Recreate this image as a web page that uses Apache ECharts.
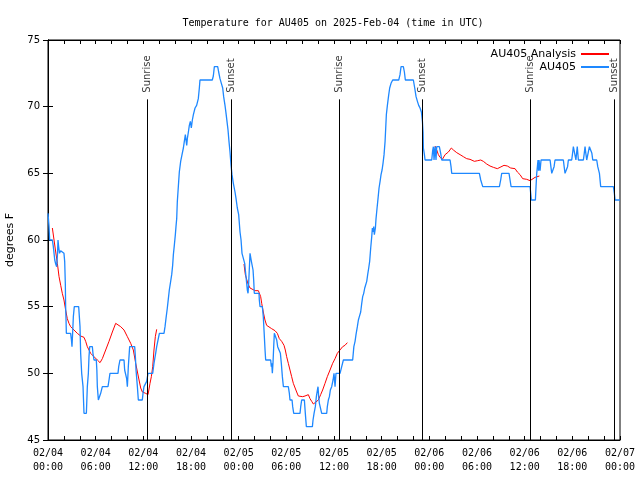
<!DOCTYPE html>
<html><head><meta charset="utf-8">
<script src="https://cdn.jsdelivr.net/npm/echarts@6/dist/echarts.min.js"></script>
<style>html,body{margin:0;padding:0;background:#fff}#c{width:640px;height:480px}</style>
</head><body><div id="c"></div>
<script>
// hours since 2025-02-04 00:00 UTC
const obsHours = [
0,0.13,0.21,0.55,0.67,0.85,0.97,1.09,1.2,1.26,1.34,1.45,1.59,2.01,2.1,2.18,2.22,2.27,2.31,2.85,2.95,3.02,3.1,3.19,3.31,3.86,4.03,4.11,4.24,4.41,4.53,4.83,4.95,5.08,5.16,5.25,5.58,5.66,5.79,6.08,6.15,6.21,6.34,6.55,6.63,6.84,7.55,7.68,7.8,8.81,8.9,9.06,9.57,9.65,9.9,9.99,10.11,10.28,10.91,11.0,11.08,11.25,11.37,11.87,11.96,12.08,12.29,12.42,12.59,13.18,13.34,13.55,13.68,14.02,14.6,
14.73,14.85,15.02,15.15,15.27,15.44,15.57,15.69,15.78,15.9,16.03,16.11,16.2,16.28,16.36,16.45,16.53,16.7,16.87,17.04,17.16,17.29,17.46,17.54,17.67,17.79,17.92,18.04,18.17,18.3,18.51,18.71,18.92,19.05,19.13,20.68,20.81,20.94,21.36,21.48,21.65,21.82,21.99,22.11,22.28,22.41,22.53,22.66,22.78,22.91,23.04,23.16,23.33,23.54,23.67,23.83,24.0,24.17,
24.3,24.42,24.67,24.76,24.88,25.01,25.09,25.18,25.26,25.43,25.55,25.6,25.68,25.81,25.89,25.97,26.56,26.6,26.69,26.98,27.02,27.1,27.19,27.32,27.4,28.03,28.11,28.16,28.24,28.32,28.41,28.49,28.7,28.79,28.91,29.12,29.25,29.37,29.5,29.63,30.25,30.38,30.46,30.72,30.8,30.93,31.72,31.81,31.93,32.27,32.39,32.52,33.28,33.36,33.49,33.65,33.78,33.91,33.99,34.07,34.16,34.45,35.08,35.16,35.29,35.42,35.54,35.71,35.88,36.0,36.13,36.25,36.76,36.97,37.18,38.35,
38.5,38.65,38.77,38.94,39.07,39.19,39.36,39.49,39.61,39.74,39.87,40.12,40.24,40.37,40.49,40.62,40.75,40.83,40.91,41.0,41.08,41.21,41.29,41.42,41.54,41.67,41.8,41.92,42.05,42.17,42.3,42.43,42.51,42.59,42.72,42.89,43.01,43.18,43.39,43.56,44.15,44.31,44.44,44.73,44.86,44.98,45.99,46.16,46.33,46.5,46.66,46.83,47.0,47.13,47.21,47.25,47.38,
47.46,48.3,48.42,48.51,48.59,48.72,48.84,48.93,49.26,49.43,49.56,50.61,50.73,50.82,54.3,54.47,54.72,56.82,56.98,57.11,58.03,58.16,58.29,60.68,60.76,60.84,61.35,61.43,61.52,61.68,61.75,61.81,61.94,62.06,63.2,63.3,63.41,63.61,63.7,63.82,64.87,64.97,65.08,65.29,65.4,65.5,65.92,66.03,66.13,66.34,66.45,66.55,66.62,66.76,67.39,67.5,67.6,67.7,67.81,68.0,68.15,68.36,68.46,68.57,69.07,69.2,69.41,69.57,71.17,71.29,71.38,72.0
];
const obsTemp = [
62,61,60,60,59.5,58.5,58.2,58,59,60,59.5,59,59.2,59,58.4,56.75,55,54,53,53,52.5,52,53,54.25,55,55,53.5,51.5,50,49,47,47,49,50,51.25,52,52,51.5,51,51,50.25,49,48,48,48.5,49,49,49.5,50,50,50.5,51,51,50.25,49.6,49,50.5,52,52,51.25,50.25,49,48,48,48.5,49,49,49.4,50,50,50.75,51.5,52,53,53,
53.5,54.1,54.9,55.6,56.25,56.9,57.4,58.1,58.9,59.6,60.4,61,61.6,62.9,63.6,64.4,65.1,65.9,66.4,66.9,67.4,67.9,67.1,67.6,68.1,68.6,68.9,68.4,69,69.4,69.9,70.1,70.6,71.4,72,72,72.3,73,73,72.6,72.1,71.75,71.4,70.75,70.1,69.5,68.9,68.25,67.4,66.6,65.6,64.9,64.25,63.6,63.1,62.4,61.9,60.6,
60,59,59,58.25,57.5,56.75,56.25,56,56.75,59,59,58.4,58.25,57.75,57,56,56,55.5,55,55,54.75,54.25,53.25,51.75,51,51,50.5,50.75,50,50.75,52,53,53,52.5,52,52,51.5,50.75,49.75,49,49,48.5,48,48,47.5,47,47,47.5,48,48,47,46,46,46.5,47,47.5,48.25,48.75,49,48.25,47.75,47,47,47.5,48,48.25,48.75,49,49.5,50,49,50,50,50.5,51,51,
52,52.4,52.9,53.5,54,54.25,54.6,55.25,55.75,56,56.4,56.9,57.4,57.9,58.4,59.4,60.25,60.9,60.6,61,60.4,60.9,61.6,62.4,63.1,63.9,64.4,64.9,65.25,65.75,66.4,67.4,68.4,69.4,70.1,70.9,71.4,71.75,72,72,72,72.4,73,73,72.6,72,72,71.4,70.75,70.4,70.1,69.9,69.6,68.9,68.1,66.9,66.4,
66,66,66.7,67,66,67,66,67,67,66.5,66,66,65.5,65,65,64.5,64,64,64.5,65,65,64.5,64,64,63.5,63,63,64,65,66,65.2,66,65.2,66,66,65.5,65,65,65.5,66,66,65.5,65,65,65.5,66,66,66.5,67,67,66,66,67,66,66,66.5,67,66.5,66,66,67,67,66.5,66,66,65.5,65,64,64,63.5,63,63
];
// analysis series, segments separated by null
const anHours = [
0.55,0.76,0.97,1.18,1.39,1.6,1.8,2.01,2.22,2.43,2.64,2.85,3.27,3.69,4.11,4.53,4.74,4.95,5.37,5.79,6.21,6.55,6.84,7.26,7.68,8.1,8.52,8.73,9.15,9.57,9.99,10.41,10.74,11.04,11.46,11.67,11.88,12.29,12.59,12.84,13.01,13.18,13.34,13.51,13.68,
19,
24.67,24.84,25.01,25.18,25.43,25.68,26.06,26.48,26.69,26.77,26.9,27.1,27.31,27.52,27.73,28.15,28.57,28.87,29.12,29.41,29.71,29.87,30.04,30.25,30.46,30.67,30.88,31.3,31.51,31.72,32.06,32.35,32.77,32.98,33.19,33.4,33.61,34.03,34.32,34.57,34.87,35.16,35.5,35.83,36.13,36.42,36.75,37.09,37.38,37.68,
43,
48.72,48.93,49.14,49.35,49.64,49.98,50.4,50.77,51.03,51.45,51.87,52.28,52.7,53.12,53.67,54.09,54.47,54.8,55.22,55.64,56.06,56.56,56.9,57.4,57.82,58.24,58.79,59.08,59.42,59.75,60.26,60.68,60.89,61.31,61.85
];
const anTemp = [
60.9,60,59.1,58.25,57.25,56.6,56,55.5,54.75,54.1,53.75,53.5,53.25,53,52.8,52.7,52.4,52,51.5,51.25,51,50.8,51.1,51.75,52.4,53.1,53.75,53.6,53.5,53.25,52.75,52.25,51.75,50.75,49.5,48.9,48.6,48.5,48.4,49.25,49.75,50.5,51.75,52.75,53.3,
null,
58.2,57.4,57.05,56.7,56.4,56.25,56.2,56.2,56.1,55.75,55.25,54.6,54,53.6,53.5,53.35,53.2,53,52.6,52.4,52.1,51.75,51.25,50.75,50.25,49.75,49.25,48.6,48.3,48.2,48.25,48.3,48.4,48.1,47.9,47.7,47.55,48,48.4,48.75,49.25,49.75,50.25,50.75,51.1,51.5,51.75,52,52.1,52.3,
null,
67.05,66.75,66.4,66.2,66.05,66.4,66.6,66.9,66.75,66.55,66.4,66.25,66.1,66.05,65.9,65.95,66,65.9,65.7,65.55,65.45,65.35,65.45,65.6,65.55,65.4,65.35,65.1,64.9,64.6,64.55,64.45,64.55,64.7,64.8
];
const sunHours = [12.5, 23.07, 36.67, 47.12, 60.71, 71.29];
const sunLabels = ['Sunrise','Sunset','Sunrise','Sunset','Sunrise','Sunset'];
const seriesNames = ['AU405 Analysis','AU405'];

const SUN_LINE_TOP = 70.55, SUN_LABEL_AT = 71.05;
const obsData = obsHours.map((h,i)=>[h, obsTemp[i]]);
const anData = anHours.map((h,i)=>[h, anTemp[i] === null ? '-' : anTemp[i]]);

function xLabel(v){
  if (v % 6 !== 0) return '';
  const day = 4 + Math.floor(v/24);
  const hh = String(v % 24).padStart(2,'0');
  return '02/0' + day + '\n' + hh + ':00';
}
const chart = echarts.init(document.getElementById('c'), null, {renderer:'canvas'});
const baseX = {type:'value', min:0, max:72, interval:2,
  axisLine:{show:true, lineStyle:{color:'#000', width:1}},
  axisTick:{show:true, inside:true, length:4, lineStyle:{color:'#000'}},
  splitLine:{show:false}};
const baseY = {type:'value', min:45, max:75, interval:5,
  axisLine:{show:true, lineStyle:{color:'#000', width:1}},
  axisTick:{show:true, inside:true, length:5, lineStyle:{color:'#000'}},
  splitLine:{show:false}};
chart.setOption({
  animation:false,
  backgroundColor:'#fff',
  title:{text:'Temperature for AU405 on 2025-Feb-04 (time in UTC)', left:328, top:13, textAlign:'center',
    textStyle:{fontFamily:'DejaVu Sans Mono', fontSize:10, fontWeight:'normal', color:'#000'}},
  grid:{left:48, right:20, top:40, bottom:40, show:true, borderColor:'#000', borderWidth:1,
    containLabel:false, outerBoundsMode:'none'},
  legend:{data:seriesNames, orient:'vertical', right:26, top:43, align:'right', itemWidth:28, itemHeight:2,
    itemGap:1, icon:'path://M0,0H28V2H0Z', textStyle:{fontFamily:'DejaVu Sans', fontSize:11, color:'#000', lineHeight:12}},
  xAxis:[
    Object.assign({}, baseX, {position:'bottom', axisLabel:{formatter:xLabel, interval:0, margin:6, showMinLabel:true, showMaxLabel:true,
      fontFamily:'DejaVu Sans Mono', fontSize:10, color:'#000', lineHeight:14}}),
    Object.assign({}, baseX, {position:'top', axisLabel:{show:false}})
  ],
  yAxis:[
    Object.assign({}, baseY, {position:'left', name:'degrees F', nameLocation:'middle', nameGap:32, nameRotate:90,
      nameTextStyle:{fontFamily:'DejaVu Sans', fontSize:11, color:'#000'},
      axisLabel:{margin:8, fontFamily:'DejaVu Sans', fontSize:10, color:'#000'}}),
    Object.assign({}, baseY, {position:'right', axisLabel:{show:false}})
  ],
  series:[
    {name:seriesNames[0], type:'line', data:anData, showSymbol:false, symbol:'none', connectNulls:false,
      color:'#ff0000', lineStyle:{color:'#ff0000', width:1}, z:2},
    {name:seriesNames[1], type:'line', data:obsData, showSymbol:false, symbol:'none',
      color:'#1e88ff', lineStyle:{color:'#1e88ff', width:1.3}, z:3},
    {name:'sun', type:'scatter', symbol:'circle', symbolSize:1, itemStyle:{color:'rgba(0,0,0,0)'},
      data:sunHours.map(h=>[h, SUN_LABEL_AT]), z:4, silent:true,
      label:{show:true, position:'inside', rotate:90, align:'left', verticalAlign:'middle',
        formatter:(p)=>sunLabels[p.dataIndex], fontFamily:'DejaVu Sans', fontSize:10, color:'#000'},
      markLine:{silent:true, symbol:['none','none'], label:{show:false},
        lineStyle:{color:'#000', width:1, type:'solid'},
        data:sunHours.map(h=>[{coord:[h,45]},{coord:[h,SUN_LINE_TOP]}])}}
  ]
});
</script></body></html>
